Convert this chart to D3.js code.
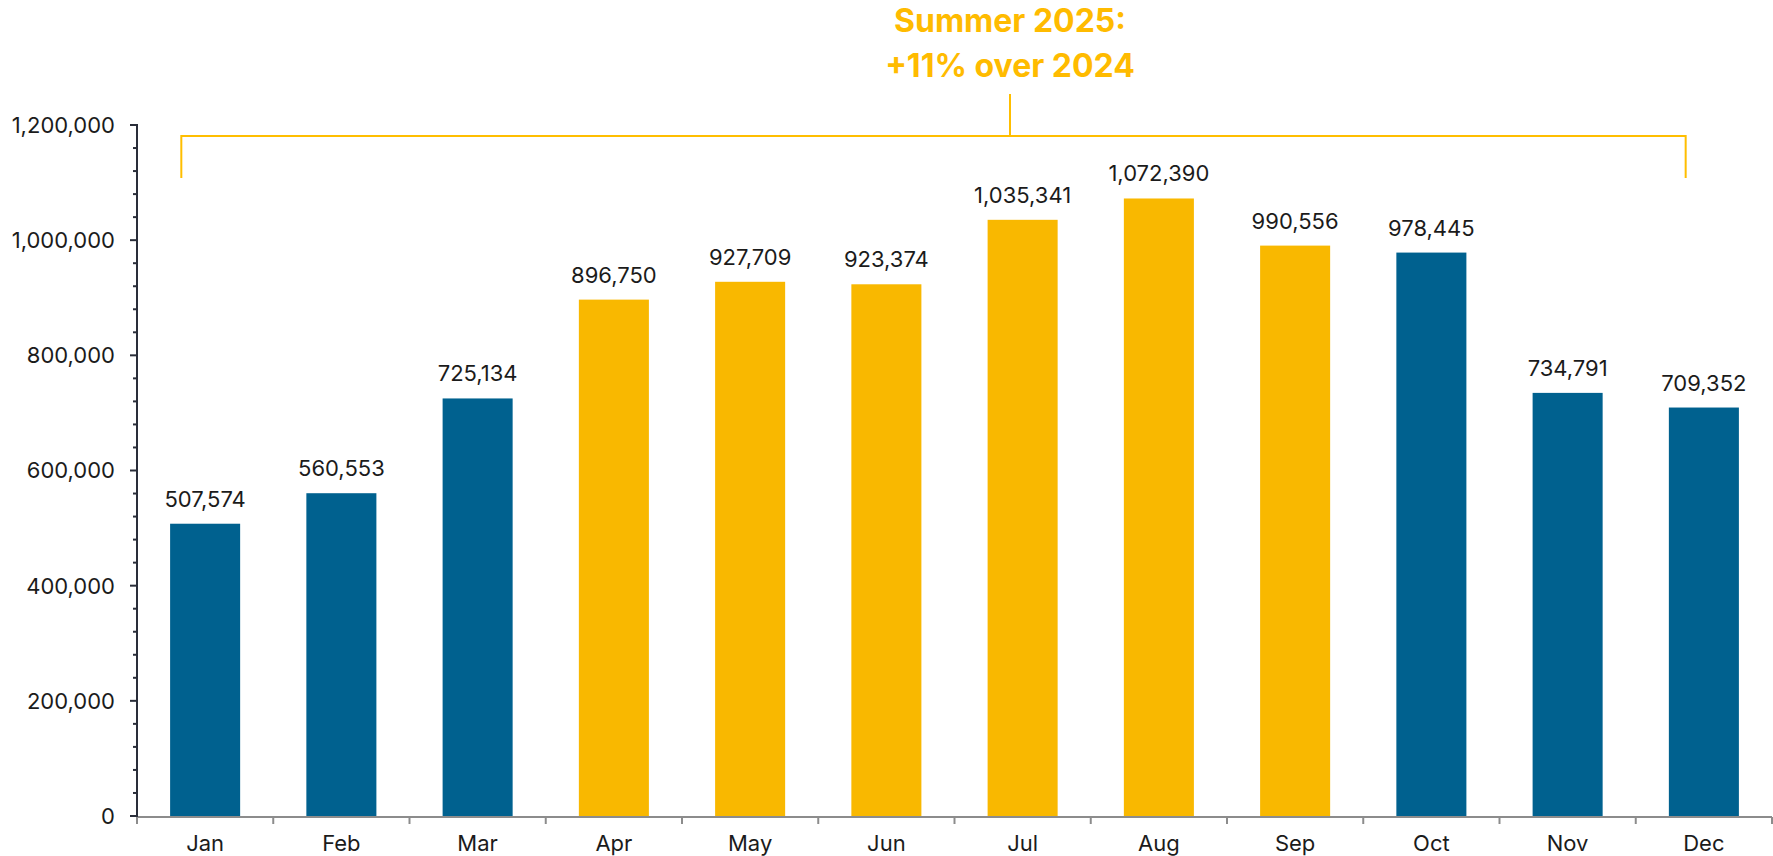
<!DOCTYPE html>
<html>
<head>
<meta charset="utf-8">
<script src="https://cdn.jsdelivr.net/npm/d3@7"></script>
<style>
  body { margin: 0; background: #fff; }
  svg { display: block; font-family: Inter, "Noto Sans", sans-serif; }
</style>
</head>
<body>
<div id="chart"></div>
<script>
var months = ["Jan", "Feb", "Mar", "Apr", "May", "Jun", "Jul", "Aug", "Sep", "Oct", "Nov", "Dec"];
var visitors = [507574, 560553, 725134, 896750, 927709, 923374, 1035341, 1072390, 990556, 978445, 734791, 709352];
var summer_months = ["Apr", "May", "Jun", "Jul", "Aug", "Sep"];
var y_ticks = [0, 200000, 400000, 600000, 800000, 1000000, 1200000];
var title_lines = ["Summer 2025:", "+11% over 2024"];

var chart_width = 1773, chart_height = 856;
var plot_left = 137, plot_right = 1772, plot_top = 125, plot_bottom = 816;

var blue = "#00618f", yellow = "#f9b800";

var data = months.map(function(m, i) { return { month: m, value: visitors[i] }; });

var svg = d3.select("#chart").append("svg")
    .attr("width", chart_width)
    .attr("height", chart_height);

var x = d3.scaleBand()
    .domain(months)
    .range([plot_left, plot_right])
    .paddingInner(0.486)
    .paddingOuter(0.243);

var y = d3.scaleLinear()
    .domain([0, 1200000])
    .range([plot_bottom, plot_top]);

// bars
svg.selectAll("rect.bar")
    .data(data)
    .enter()
    .append("rect")
    .attr("class", "bar")
    .attr("x", function(d) { return x(d.month); })
    .attr("y", function(d) { return y(d.value); })
    .attr("width", x.bandwidth())
    .attr("height", function(d) { return plot_bottom - y(d.value); })
    .style("fill", function(d) { return summer_months.indexOf(d.month) >= 0 ? yellow : blue; });

// value labels
svg.selectAll("text.val")
    .data(data)
    .enter()
    .append("text")
    .attr("class", "val")
    .attr("x", function(d) { return x(d.month) + x.bandwidth() / 2; })
    .attr("y", function(d) { return y(d.value) - 17; })
    .attr("text-anchor", "middle")
    .style("font-size", "22px")
    .style("fill", "#1b1b1b")
    .text(function(d) { return d3.format(",")(d.value); });

// x axis: gray baseline with ticks on band edges
var step = x.step();
var x_edges = d3.range(months.length + 1).map(function(i) { return plot_left + i * step; });
svg.append("line")
    .attr("x1", plot_left).attr("x2", plot_right)
    .attr("y1", plot_bottom + 1).attr("y2", plot_bottom + 1)
    .style("stroke", "#8c8c8c").style("stroke-width", 2);
svg.selectAll("line.xtick")
    .data(x_edges)
    .enter()
    .append("line")
    .attr("class", "xtick")
    .attr("x1", function(d) { return d; }).attr("x2", function(d) { return d; })
    .attr("y1", plot_bottom + 1).attr("y2", plot_bottom + 8)
    .style("stroke", "#8c8c8c").style("stroke-width", 2);
svg.selectAll("text.xlab")
    .data(months)
    .enter()
    .append("text")
    .attr("class", "xlab")
    .attr("x", function(d) { return x(d) + x.bandwidth() / 2; })
    .attr("y", 851)
    .attr("text-anchor", "middle")
    .style("font-size", "22px")
    .style("fill", "#1b1b1b")
    .text(function(d) { return d; });

// y axis with minor ticks
var y_axis = svg.append("g")
    .attr("transform", "translate(" + plot_left + ",0)");
y_axis.append("line")
    .attr("x1", 0).attr("x2", 0)
    .attr("y1", plot_top - 1).attr("y2", plot_bottom + 1)
    .style("stroke", "#2a2e3a").style("stroke-width", 2);
var minor = d3.range(0, 1200001, 40000).filter(function(v) { return v % 200000 !== 0; });
y_axis.selectAll("line.minor")
    .data(minor)
    .enter()
    .append("line")
    .attr("class", "minor")
    .attr("y1", function(d) { return y(d); }).attr("y2", function(d) { return y(d); })
    .attr("x1", -4).attr("x2", 0)
    .style("stroke", "#2a2e3a").style("stroke-width", 2);
y_axis.selectAll("line.major")
    .data(y_ticks)
    .enter()
    .append("line")
    .attr("class", "major")
    .attr("y1", function(d) { return y(d); }).attr("y2", function(d) { return y(d); })
    .attr("x1", -7).attr("x2", 0)
    .style("stroke", "#2a2e3a").style("stroke-width", 2);
y_axis.selectAll("text.ylab")
    .data(y_ticks)
    .enter()
    .append("text")
    .attr("class", "ylab")
    .attr("x", -22)
    .attr("y", function(d) { return y(d); })
    .attr("dy", "0.36em")
    .attr("text-anchor", "end")
    .style("font-size", "22px")
    .style("fill", "#1b1b1b")
    .text(function(d) { return d3.format(",")(d); });

// summer bracket and title
var bx1 = x("Jan") + x.bandwidth() * 0.16;
var bx2 = x("Dec") + x.bandwidth() * 0.24;
var by = 136, bdrop = 178;
var bmid = 1010;
svg.append("path")
    .attr("d", "M" + bx1 + "," + bdrop + "V" + by + "H" + bx2 + "V" + bdrop)
    .style("fill", "none").style("stroke", "#ffbe00").style("stroke-width", 2);
svg.append("line")
    .attr("x1", bmid).attr("x2", bmid)
    .attr("y1", 94).attr("y2", by)
    .style("stroke", "#ffbe00").style("stroke-width", 2);
svg.selectAll("text.title")
    .data(title_lines)
    .enter()
    .append("text")
    .attr("class", "title")
    .attr("x", bmid)
    .attr("y", function(d, i) { return 32 + i * 45; })
    .attr("text-anchor", "middle")
    .style("font-size", "32px")
    .style("font-weight", "bold")
    .style("fill", "#ffbb00")
    .text(function(d) { return d; });
</script>
</body>
</html>
